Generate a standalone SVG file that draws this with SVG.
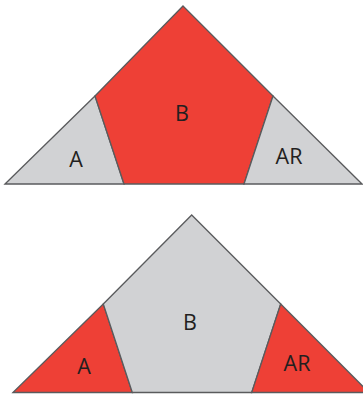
<svg xmlns="http://www.w3.org/2000/svg" width="363" height="394" viewBox="0 0 363 394">
<style>
.r{fill:#ee4036;stroke:#5a5b5d;stroke-width:1.3;stroke-linejoin:miter}
.g{fill:#d1d2d4;stroke:#5a5b5d;stroke-width:1.3;stroke-linejoin:miter}
text{font-family:"Open Sans","Liberation Sans",sans-serif;font-size:21.5px;fill:#231f20;text-anchor:middle}
</style>
<rect width="363" height="394" fill="#fff"/>
<g id="top">
<g id="topA"><polygon class="g" points="5,184 95,96 124,184"/><text x="76" y="166.5">A</text></g>
<g id="topB"><polygon class="r" points="183,6 273,96 244,184 124,184 95,96"/><text x="182" y="121">B</text></g>
<g id="topAR"><polygon class="g" points="273,96 362,184 244,184"/><text x="289" y="163.5">AR</text></g>
</g>
<g id="bottom">
<g id="botA"><polygon class="r" points="13,392.5 103.3,304 132.3,392.5"/><text x="84" y="374">A</text></g>
<g id="botB"><polygon class="g" points="191.7,215 280.7,304 251.7,392.5 132.3,392.5 103.3,304"/><text x="190" y="329.5">B</text></g>
<g id="botAR"><polygon class="r" points="280.7,304 369,392.5 251.7,392.5"/><text x="297" y="371">AR</text></g>
</g>
<g id="connectors"/>
</svg>
